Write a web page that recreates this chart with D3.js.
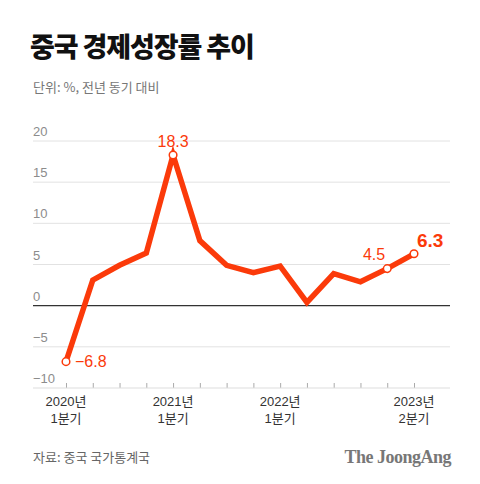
<!DOCTYPE html>
<html><head><meta charset="utf-8">
<script src="https://cdn.jsdelivr.net/npm/d3@7"></script>
<style>
html,body{margin:0;padding:0;background:#fff;}
svg{display:block;}
</style></head>
<body>
<script>
const quarters = ["2020Q1","2020Q2","2020Q3","2020Q4","2021Q1","2021Q2","2021Q3","2021Q4","2022Q1","2022Q2","2022Q3","2022Q4","2023Q1","2023Q2"];
const growth = [-6.8, 3.1, 4.9, 6.4, 18.3, 7.9, 4.9, 4.0, 4.8, 0.4, 3.9, 2.9, 4.5, 6.3];
const yTicks = [-10, -5, 0, 5, 10, 15, 20];
const xLabelQuarters = ["2020Q1","2021Q1","2022Q1","2023Q2"];
const xLabels = [["2020년","1분기"],["2021년","1분기"],["2022년","1분기"],["2023년","2분기"]];
const labeled = [
  {q:"2020Q1", text:"−6.8", pos:"right"},
  {q:"2021Q1", text:"18.3", pos:"top"},
  {q:"2023Q1", text:"4.5", pos:"topleft"},
  {q:"2023Q2", text:"6.3", pos:"big"}
];
const title = "중국 경제성장률 추이";
const subtitle = "단위: %, 전년 동기 대비";
const source = "자료: 중국 국가통계국";
const brand = "The JoongAng";

const W = 480, H = 484;
const font = "'Liberation Sans','Noto Sans CJK KR',sans-serif";
const kfont = "'Noto Sans CJK KR','Liberation Sans',sans-serif";
const red = "#fb3a0a";

const svg = d3.select("body").append("svg").attr("width", W).attr("height", H);

const x = d3.scalePoint().domain(quarters).range([66, 414]);
const y = d3.scaleLinear().domain([-10, 20]).range([388, 141]);
const left = 33, right = 450;

svg.append("text").attr("x", 30).attr("y", 57).text(title)
  .attr("font-family", kfont).attr("font-weight", 900).attr("font-size", 27).attr("fill", "#111").attr("letter-spacing", -1.1);
svg.append("text").attr("x", 33).attr("y", 92).text(subtitle)
  .attr("font-family", kfont).attr("font-size", 13).attr("fill", "#777");

// grid
const grid = svg.append("g");
grid.selectAll("line").data(yTicks.filter(d => d !== 0 && d !== -10)).join("line")
  .attr("x1", left).attr("x2", right).attr("y1", d => y(d)).attr("y2", d => y(d))
  .attr("stroke", "#e2e2e2").attr("stroke-width", 1);
grid.selectAll("text").data(yTicks).join("text")
  .attr("x", left).attr("y", d => y(d) - 5).text(d => d < 0 ? "−" + Math.abs(d) : d)
  .attr("font-family", font).attr("font-size", 13).attr("fill", "#8c8c8c");

// bottom axis
const xAxis = d3.axisBottom(x).tickSizeInner(-5).tickSizeOuter(0).tickFormat("");
const gx = svg.append("g").attr("transform", `translate(0,${y(-10)})`).call(xAxis);
gx.select(".domain").remove();
gx.selectAll(".tick line").attr("stroke", "#aaa");
svg.append("line").attr("x1", left).attr("x2", right).attr("y1", y(-10)).attr("y2", y(-10))
  .attr("stroke", "#ddd").attr("stroke-width", 1);

// zero line
svg.append("line").attr("x1", left).attr("x2", right).attr("y1", y(0)).attr("y2", y(0))
  .attr("stroke", "#333").attr("stroke-width", 1.3);

// x labels
xLabelQuarters.forEach((q, i) => {
  const t = svg.append("text").attr("x", x(q)).attr("text-anchor", "middle")
    .attr("font-family", font).attr("font-size", 13).attr("fill", "#333");
  t.append("tspan").attr("x", x(q)).attr("y", 406).text(xLabels[i][0]);
  t.append("tspan").attr("x", x(q)).attr("y", 423).text(xLabels[i][1]);
});

// line
const line = d3.line().x((d, i) => x(quarters[i])).y(d => y(d)).curve(d3.curveLinear);
svg.append("path").datum(growth).attr("d", line)
  .attr("fill", "none").attr("stroke", red).attr("stroke-width", 5.5).attr("stroke-linejoin", "miter");

// points and labels
labeled.forEach(l => {
  const v = growth[quarters.indexOf(l.q)];
  const cx = x(l.q), cy = y(v);
  svg.append("circle").attr("cx", cx).attr("cy", cy).attr("r", 3.8)
    .attr("fill", "#fff").attr("stroke", red).attr("stroke-width", 1.5);
  const t = svg.append("text").text(l.text).attr("font-family", font).attr("fill", red);
  if (l.pos === "right") t.attr("x", cx + 9).attr("y", cy + 5).attr("font-size", 16);
  else if (l.pos === "top") t.attr("x", cx).attr("y", cy - 8).attr("text-anchor", "middle").attr("font-size", 16);
  else if (l.pos === "topleft") t.attr("x", cx - 2).attr("y", cy - 9).attr("text-anchor", "end").attr("font-size", 16);
  else t.attr("x", cx + 3).attr("y", cy - 7).attr("font-size", 19).attr("font-weight", 700);
});

// footer
svg.append("text").attr("x", 33).attr("y", 462).text(source)
  .attr("font-family", kfont).attr("font-size", 13).attr("fill", "#666");
svg.append("text").attr("x", 451).attr("y", 463).attr("text-anchor", "end").text(brand)
  .attr("font-family", "'Liberation Serif','DejaVu Serif',serif").attr("font-weight", 700)
  .attr("font-size", 18).attr("fill", "#777").attr("letter-spacing", -0.5);
</script>
</body></html>
